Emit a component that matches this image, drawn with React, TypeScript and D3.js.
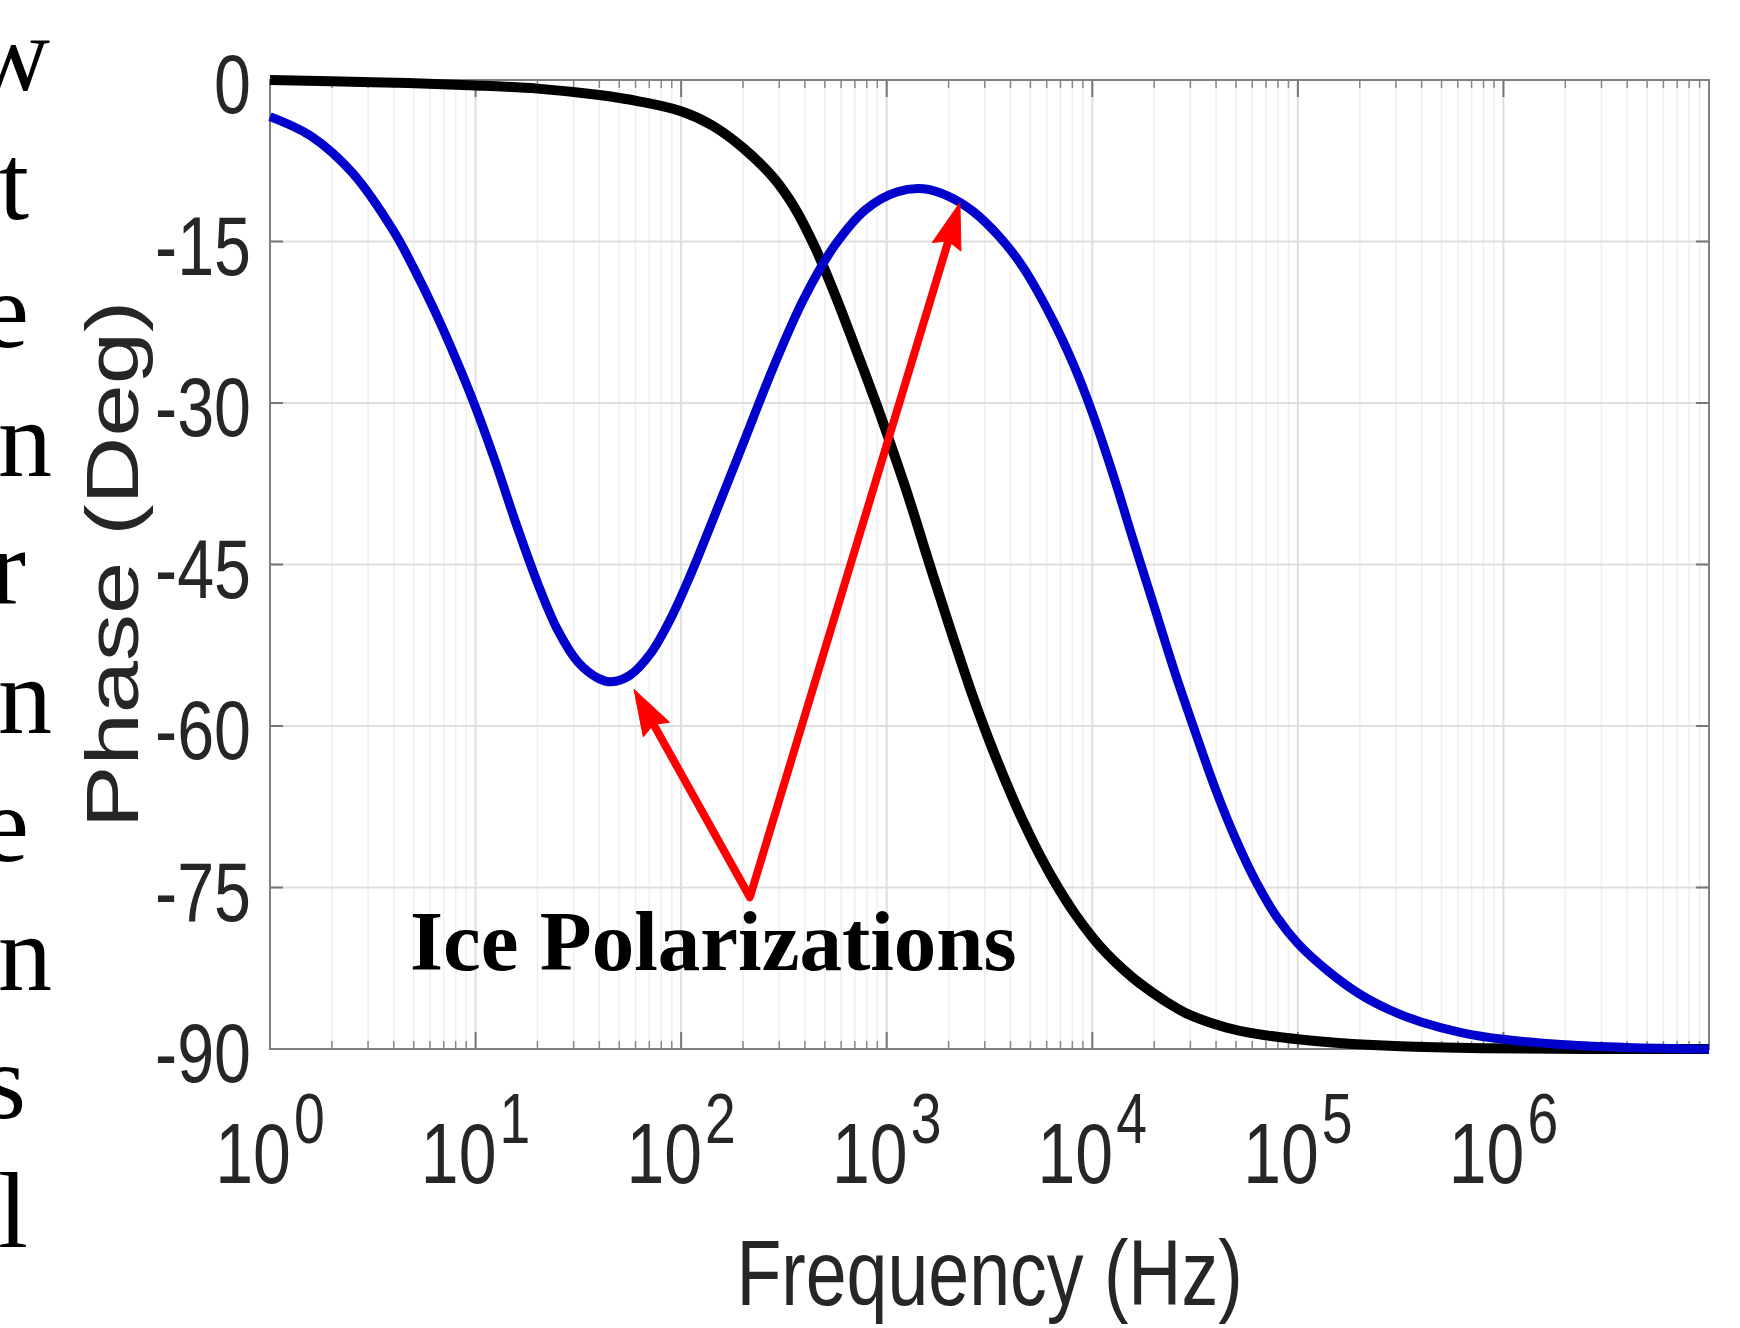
import React from "react";
import * as d3 from "d3";

// ---- data ----
const FREQ_BLACK = [1, 3.16, 10, 20, 40, 63, 100, 141, 200, 282, 355, 447, 562, 708, 891, 1000, 1260, 1580, 2000, 2630, 3160, 3800, 4570, 5560, 6760, 8130, 10000, 11700, 14100, 17000, 22400, 29500, 44700, 63100, 100000, 158000, 316000, 794000, 2510000, 1e7];
const PHASE_BLACK = [0, -0.2, -0.5, -0.8, -1.4, -2.0, -2.9, -4.2, -6.3, -9.1, -11.8, -15.5, -20.0, -25.0, -30.1, -32.8, -38.4, -44.4, -50.5, -57.3, -61.4, -65.2, -68.7, -72.0, -74.9, -77.3, -79.6, -81.1, -82.6, -83.9, -85.5, -86.8, -88.0, -88.6, -89.1, -89.45, -89.75, -89.92, -90, -90];

const FREQ_BLUE = [1, 1.58, 2.51, 3.98, 5.01, 6.31, 7.94, 10, 12.6, 15.8, 20, 25.1, 31.6, 39.8, 45.7, 56.2, 70.8, 89.1, 112, 141, 200, 282, 398, 562, 794, 1120, 1510, 2000, 2630, 3550, 4570, 6310, 8130, 10000, 12600, 15800, 20000, 25100, 31600, 39800, 50100, 63100, 79400, 100000, 141000, 200000, 282000, 398000, 631000, 1e6, 2000000, 3980000, 1e7];
const PHASE_BLUE = [-3.4, -5.2, -8.6, -14.0, -17.5, -21.4, -25.7, -30.4, -35.7, -41.3, -46.7, -51.1, -54.1, -55.6, -55.9, -55.3, -53.3, -50.0, -45.8, -41.1, -33.8, -26.6, -20.2, -15.3, -12.0, -10.4, -10.1, -10.8, -12.2, -14.6, -17.3, -22.0, -26.5, -30.9, -36.6, -42.7, -48.9, -54.9, -60.5, -65.9, -70.6, -74.6, -77.8, -80.2, -82.8, -84.9, -86.4, -87.5, -88.5, -89.1, -89.6, -89.85, -90];

const X_DOMAIN = [1, 1e7];
const Y_DOMAIN = [-90, 0];
const Y_TICKS = [0, -15, -30, -45, -60, -75, -90];
const X_MAJOR = [1, 10, 100, 1e3, 1e4, 1e5, 1e6, 1e7];
const X_LABEL_EXPONENTS = [0, 1, 2, 3, 4, 5, 6];

const ANNOTATION_TEXT = "Ice Polarizations";
const ANNOTATION_POS = { f: 4.8, v: -82.7 };
const ARROW_TAIL = { f: 216, v: -75.9 };
const ARROW_TIPS = [
  { f: 59, v: -56.6 },
  { f: 2270, v: -11.4 },
];

const MARGIN_LETTERS = ["w", "t", "e", "n", "r", "n", "e", "n", "s", "l"];
const MARGIN_LETTER_END = [50, 29, 29, 52, 26, 52, 29, 52, 26, 28];

const X_TITLE = "Frequency (Hz)";
const Y_TITLE = "Phase (Deg)";

const W = 1740;
const H = 1328;
const L = 270, R = 1709, T = 80, B = 1049;
const SQ = 0.79; // horizontal compression of axis text
const SANS = "'Liberation Sans', Arial, Helvetica, sans-serif";
const SERIF = "'Liberation Serif', 'Times New Roman', serif";

export default function App() {
  const x = d3.scaleLog().domain(X_DOMAIN).range([L, R]);
  const y = d3.scaleLinear().domain(Y_DOMAIN).range([B, T]);

  const minor: number[] = [];
  for (let k = 0; k < 7; k++) for (let m = 2; m <= 9; m++) minor.push(m * Math.pow(10, k));

  const line = d3
    .line<[number, number]>()
    .x((d) => x(d[0]))
    .y((d) => y(d[1]))
    .curve(d3.curveCatmullRom.alpha(0.5));

  const blackPath = line(FREQ_BLACK.map((f, i) => [f, PHASE_BLACK[i]] as [number, number])) || "";
  const bluePath = line(FREQ_BLUE.map((f, i) => [f, PHASE_BLUE[i]] as [number, number])) || "";

  // arrows
  const tail = [x(ARROW_TAIL.f), y(ARROW_TAIL.v)];
  const headLen = 46, headHalf = 15;
  const heads = ARROW_TIPS.map((t) => {
    const tip = [x(t.f), y(t.v)];
    const dx = tip[0] - tail[0], dy = tip[1] - tail[1];
    const len = Math.hypot(dx, dy);
    const ux = dx / len, uy = dy / len;
    const base = [tip[0] - ux * headLen, tip[1] - uy * headLen];
    const px = -uy, py = ux;
    const tri = `M${tip[0]},${tip[1]} L${base[0] + px * headHalf},${base[1] + py * headHalf} L${base[0] + ux * 6},${base[1] + uy * 6} L${base[0] - px * headHalf},${base[1] - py * headHalf} Z`;
    const shaftEnd = [tip[0] - ux * (headLen - 10), tip[1] - uy * (headLen - 10)];
    return { tri, shaftEnd };
  });
  const shaft = `M${heads[0].shaftEnd[0]},${heads[0].shaftEnd[1]} L${tail[0]},${tail[1]} L${heads[1].shaftEnd[0]},${heads[1].shaftEnd[1]}`;

  return (
    <svg
      width={W}
      height={H}
      viewBox={`0 0 ${W} ${H}`}
      style={{ position: "absolute", left: 0, top: 0, background: "#fff" }}
    >
      <rect x={0} y={0} width={W} height={H} fill="#fff" />

      {/* margin text fragments from the page */}
      {MARGIN_LETTERS.map((c, i) => (
        <text
          key={"m" + i}
          x={MARGIN_LETTER_END[i]}
          y={90 + i * 128.5}
          textAnchor="end"
          fontFamily={SERIF}
          fontSize={108}
          fill="#000"
        >
          {c}
        </text>
      ))}

      {/* minor grid */}
      {minor.map((v, i) => (
        <line key={"mg" + i} x1={x(v)} x2={x(v)} y1={T} y2={B} stroke="#efefef" strokeWidth={1.5} />
      ))}
      {/* major grid */}
      {X_MAJOR.map((v, i) => (
        <line key={"xg" + i} x1={x(v)} x2={x(v)} y1={T} y2={B} stroke="#dedede" strokeWidth={2} />
      ))}
      {Y_TICKS.map((v, i) => (
        <line key={"yg" + i} x1={L} x2={R} y1={y(v)} y2={y(v)} stroke="#dedede" strokeWidth={2} />
      ))}

      {/* ticks */}
      {X_MAJOR.map((v, i) => (
        <g key={"xt" + i}>
          <line x1={x(v)} x2={x(v)} y1={B} y2={B - 17} stroke="#777" strokeWidth={2} />
          <line x1={x(v)} x2={x(v)} y1={T} y2={T + 17} stroke="#777" strokeWidth={2} />
        </g>
      ))}
      {minor.map((v, i) => (
        <g key={"xm" + i}>
          <line x1={x(v)} x2={x(v)} y1={B} y2={B - 8} stroke="#888" strokeWidth={1.5} />
          <line x1={x(v)} x2={x(v)} y1={T} y2={T + 8} stroke="#888" strokeWidth={1.5} />
        </g>
      ))}
      {Y_TICKS.map((v, i) => (
        <g key={"yt" + i}>
          <line x1={L} x2={L + 13} y1={y(v)} y2={y(v)} stroke="#777" strokeWidth={2} />
          <line x1={R} x2={R - 13} y1={y(v)} y2={y(v)} stroke="#777" strokeWidth={2} />
        </g>
      ))}

      {/* axes box */}
      <rect x={L} y={T} width={R - L} height={B - T} fill="none" stroke="#808080" strokeWidth={2} />

      {/* curves */}
      <path d={blackPath} fill="none" stroke="#000" strokeWidth={10} strokeLinejoin="round" />
      <path d={bluePath} fill="none" stroke="#0000cc" strokeWidth={9} strokeLinejoin="round" />

      {/* arrows */}
      <path d={shaft} fill="none" stroke="#ff0000" strokeWidth={8} strokeLinejoin="round" strokeLinecap="round" />
      {heads.map((h, i) => (
        <path key={"ah" + i} d={h.tri} fill="#ff0000" stroke="#ff0000" strokeWidth={1} />
      ))}

      {/* annotation */}
      <text
        x={x(ANNOTATION_POS.f)}
        y={y(ANNOTATION_POS.v)}
        fontFamily={SERIF}
        fontWeight="bold"
        fontSize={85}
        fill="#000"
      >
        {ANNOTATION_TEXT}
      </text>

      {/* y tick labels */}
      {Y_TICKS.map((v, i) => (
        <text
          key={"yl" + i}
          transform={`translate(251,${y(v) + 33}) scale(${SQ},1)`}
          textAnchor="end"
          fontFamily={SANS}
          fontSize={84}
          fill="#262626"
        >
          {v}
        </text>
      ))}

      {/* x tick labels */}
      {X_LABEL_EXPONENTS.map((e, i) => (
        <text
          key={"xl" + i}
          transform={`translate(${x(Math.pow(10, e))},1183) scale(${SQ},1)`}
          textAnchor="middle"
          fontFamily={SANS}
          fill="#262626"
        >
          <tspan fontSize={86}>10</tspan>
          <tspan fontSize={70} dx={4} dy={-40}>
            {e}
          </tspan>
        </text>
      ))}

      {/* axis titles */}
      <text
        transform={`translate(${(L + R) / 2},1305) scale(${SQ},1)`}
        textAnchor="middle"
        fontFamily={SANS}
        fontSize={93}
        fill="#262626"
      >
        {X_TITLE}
      </text>
      <text
        transform={`translate(138,${(T + B) / 2}) scale(${SQ},1) rotate(-90)`}
        textAnchor="middle"
        fontFamily={SANS}
        fontSize={94}
        fill="#262626"
      >
        {Y_TITLE}
      </text>
    </svg>
  );
}
